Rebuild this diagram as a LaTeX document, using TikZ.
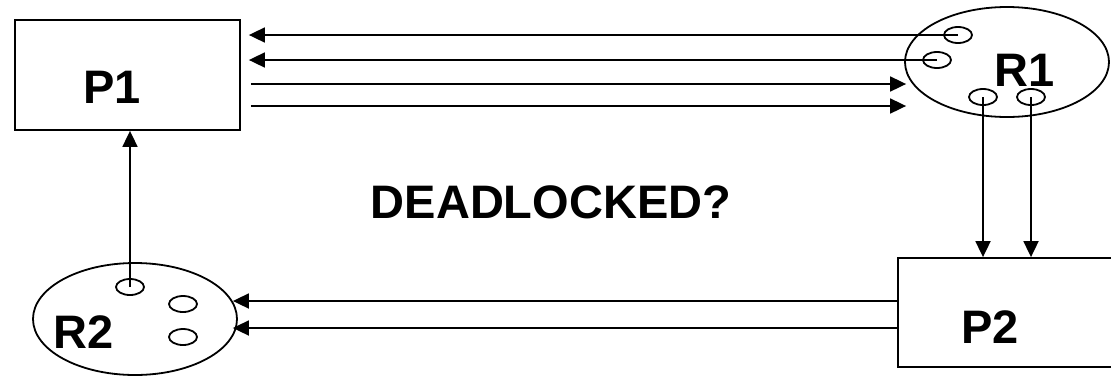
\documentclass[tikz,border=0pt]{standalone}
\usepackage{fontspec}
\setmainfont{Liberation Sans}
\usepackage{tikz}
\usetikzlibrary{arrows.meta, shapes.geometric}

\begin{document}
\begin{tikzpicture}[x=1pt,y=-1pt,>={Triangle[length=16pt,width=15pt]},line width=1.8pt,
    procbox/.style={draw,rectangle,inner sep=0pt},
    resource/.style={draw,ellipse,inner sep=0pt,minimum width=204pt,minimum height=110pt},
    port/.style={draw,ellipse,inner sep=0pt,minimum width=28pt,minimum height=16pt},
    lbl/.style={font=\fontsize{47}{50}\selectfont\bfseries,inner sep=0pt}]
  % white background
  \fill[white] (0,0) rectangle (1111,376);
  \clip (0,0) rectangle (1111,376);

  % processes
  \node[procbox,minimum width=225pt,minimum height=110pt] (p1) at (127.5,75) {};
  \node[procbox,minimum width=230pt,minimum height=109pt] (p2) at (1013,312.5) {};
  \node[lbl] (p1text) at (112,87) {P1};
  \node[lbl] (p2text) at (990,327) {P2};

  % resources
  \node[resource] (r1) at (1007,62) {};
  \node[resource,minimum height=112pt] (r2) at (135,319) {};
  \node[lbl] (r1text) at (1025,70) {R1};
  \node[lbl] (r2text) at (84,332) {R2};

  % units
  \node[port] (r1a) at (958,35) {};
  \node[port] (r1b) at (937,60) {};
  \node[port] (r1c) at (983,97) {};
  \node[port] (r1d) at (1031,97) {};
  \node[port] (r2a) at (130,287) {};
  \node[port] (r2b) at (183,304) {};
  \node[port] (r2c) at (183,337) {};

  \node[lbl] (question) at (551,202) {DEADLOCKED?};

  % held / requested
  \draw[->,shorten >=8pt] (r1a.center) -- (r1a.center -| p1.east);
  \draw[->,shorten >=8pt] (r1b.center) -- (r1b.center -| p1.east);
  \draw[->,shorten <=10pt,shorten >=-2pt] (p1.east |- 0,84) -- (r1.west |- 0,84);
  \draw[->,shorten <=10pt,shorten >=-2pt] (p1.east |- 0,106) -- (r1.west |- 0,106);
  \draw[->] (r1c.center) -- (r1c.center |- p2.north);
  \draw[->] (r1d.center) -- (r1d.center |- p2.north);
  \draw[->,shorten >=-5pt] (p2.west |- 0,301) -- (r2.east |- 0,301);
  \draw[->,shorten >=-5pt] (p2.west |- 0,328) -- (r2.east |- 0,328);
  \draw[->] (r2a.center) -- (r2a.center |- p1.south);
\end{tikzpicture}
\end{document}
